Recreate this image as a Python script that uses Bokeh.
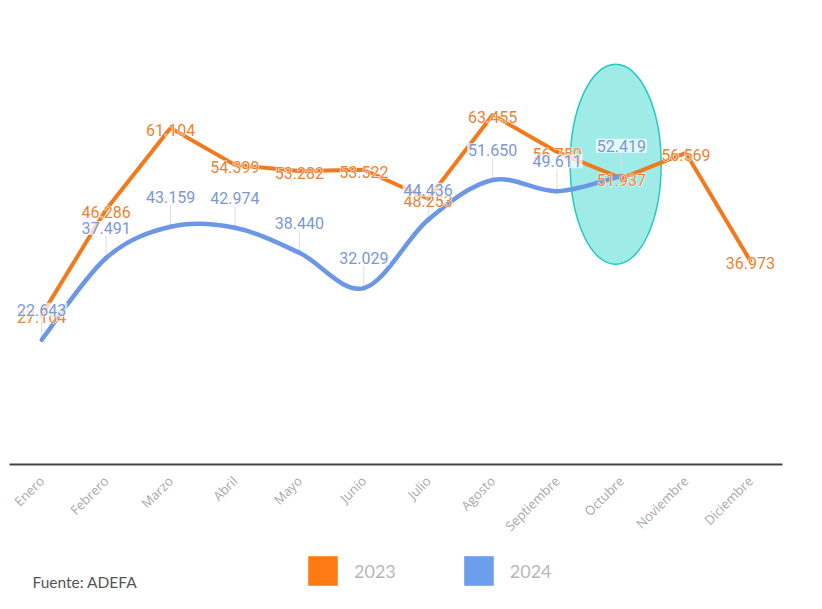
import math
from bokeh.plotting import figure
from bokeh.models import Range1d, FixedTicker, Legend, LegendItem, Label, ColumnDataSource
from bokeh.layouts import column
from bokeh.embed import file_html
from bokeh.resources import INLINE
from bokeh.core.properties import value

# ---------------- data ----------------
months = ["Enero", "Febrero", "Marzo", "Abril", "Mayo", "Junio", "Julio",
          "Agosto", "Septiembre", "Octubre", "Noviembre", "Diciembre"]
sales_2023 = [27164, 46286, 61104, 54399, 53282, 53522, 48253,
              63455, 56750, 51937, 56569, 36973]
sales_2024 = [22643, 37491, 43159, 42974, 38440, 32029, 44436,
              51650, 49611, 52419]
series_names = ["2023", "2024"]
source_text = "Fuente: ADEFA"
highlight_month = "Octubre"

# ---------------- style ----------------
ORANGE = "#f27a1c"
ORANGE_TXT = "#eb8233"
BLUE = "#6b97e6"
BLUE_TXT = "#7b98d6"
LBL_FONT = value("Roboto")
LBL_SIZE = "16px"

def fmt(v):
    return f"{v:,}".replace(",", ".")

x23 = list(range(len(sales_2023)))
x24 = list(range(len(sales_2024)))

p = figure(width=822, height=543, x_range=Range1d(-0.5, 11.5), y_range=Range1d(0, 82790),
           toolbar_location=None, output_backend="svg", y_axis_location=None,
           min_border_left=9, min_border_right=40, min_border_top=8, min_border_bottom=78)
p.outline_line_color = None
p.xgrid.visible = False
p.ygrid.visible = False
p.background_fill_color = "white"

# highlight ellipse
p.ellipse(x=[months.index(highlight_month) - 0.09], y=[54500], width=91, height=200,
          width_units="screen", height_units="screen",
          fill_color="#9eebe7", line_color="#25c9c1", line_width=1.5)

# connectors for 2024 labels
p.ray(x=x24, y=sales_2024, length=22, length_units="screen", angle=math.pi / 2,
      line_color="#dcdcdc", line_width=1)

# 2023: straight line
p.line(x23, sales_2023, line_color=ORANGE, line_width=4, line_join="round", line_cap="round")

# 2024: smooth curve (Catmull-Rom converted to Bezier segments)
n = len(sales_2024)
bx0, by0, bx1, by1, bcx0, bcy0, bcx1, bcy1 = [], [], [], [], [], [], [], []
for i in range(n - 1):
    a = i - 1 if i > 0 else i
    d = i + 2 if i + 2 < n else i + 1
    bx0.append(x24[i]); by0.append(sales_2024[i])
    bx1.append(x24[i + 1]); by1.append(sales_2024[i + 1])
    bcx0.append(x24[i] + (x24[i + 1] - x24[a]) / 6)
    bcy0.append(sales_2024[i] + (sales_2024[i + 1] - sales_2024[a]) / 6)
    bcx1.append(x24[i + 1] - (x24[d] - x24[i]) / 6)
    bcy1.append(sales_2024[i + 1] - (sales_2024[d] - sales_2024[i]) / 6)
p.bezier(x0=bx0, y0=by0, x1=bx1, y1=by1, cx0=bcx0, cy0=bcy0, cx1=bcx1, cy1=bcy1,
         line_color=BLUE, line_width=4.5, line_cap="round")

# labels 2023 (on points): white halo underneath, orange text on top
lab23 = [fmt(v) for v in sales_2023]
p.text(x=x23, y=sales_2023, text=lab23, y_offset=2,
       text_align="center", text_baseline="middle", text_font=LBL_FONT,
       text_font_size=LBL_SIZE, text_color="white", text_outline_color="white")
p.text(x=x23, y=sales_2023, text=lab23, y_offset=2,
       text_align="center", text_baseline="middle", text_font=LBL_FONT,
       text_font_size=LBL_SIZE, text_color=ORANGE_TXT)

# labels 2024 (above points)
p.text(x=x24, y=sales_2024, text=[fmt(v) for v in sales_2024], y_offset=-30,
       text_align="center", text_baseline="middle", text_font=LBL_FONT,
       text_font_size=LBL_SIZE, text_color=BLUE_TXT,
       background_fill_color="white", background_fill_alpha=0.7, padding=1)

ax = p.xaxis[0]
ax.ticker = FixedTicker(ticks=x23)
ax.major_label_overrides = {i: m for i, m in enumerate(months)}
ax.major_label_orientation = math.pi / 4
ax.major_label_text_font = "Open Sans"
ax.major_label_text_font_size = "13px"
ax.major_label_text_color = "#a8a8a8"
ax.major_label_standoff = 8
ax.major_tick_line_color = None
ax.minor_tick_line_color = None
ax.axis_line_color = "#444444"
ax.axis_line_width = 2

# ---------------- legend / source strip ----------------
lf = figure(width=822, height=58, x_range=Range1d(0, 1), y_range=Range1d(0, 1),
            toolbar_location=None, output_backend="svg",
            x_axis_location=None, y_axis_location=None, min_border=0)
lf.outline_line_color = None
lf.xgrid.visible = False
lf.ygrid.visible = False
nan = float("nan")
r1 = lf.rect(x="x", y="y", width=1, height=1, source=ColumnDataSource(dict(x=[nan], y=[nan])),
             fill_color="#ff7a12", line_color=None)
r2 = lf.rect(x="x", y="y", width=1, height=1, source=ColumnDataSource(dict(x=[nan], y=[nan])),
             fill_color="#6d9eeb", line_color=None)
legend = Legend(items=[LegendItem(label=series_names[0], renderers=[r1]),
                       LegendItem(label=series_names[1], renderers=[r2])],
                orientation="horizontal", location=(295, 12),
                glyph_width=37, glyph_height=37, label_standoff=13, spacing=64,
                padding=0, margin=0, border_line_color=None, background_fill_alpha=0,
                label_text_font="Lato", label_text_font_size="18px",
                label_text_color="#b8b8b8")
lf.add_layout(legend)
lf.add_layout(Label(x=23, y=11, x_units="screen", y_units="screen", text=source_text,
                    text_font="Lato", text_font_size="15.5px", text_color="#555555"))

layout = column(p, lf, spacing=0)
open("out.html", "w").write(file_html(layout, INLINE, "Ventas"))
